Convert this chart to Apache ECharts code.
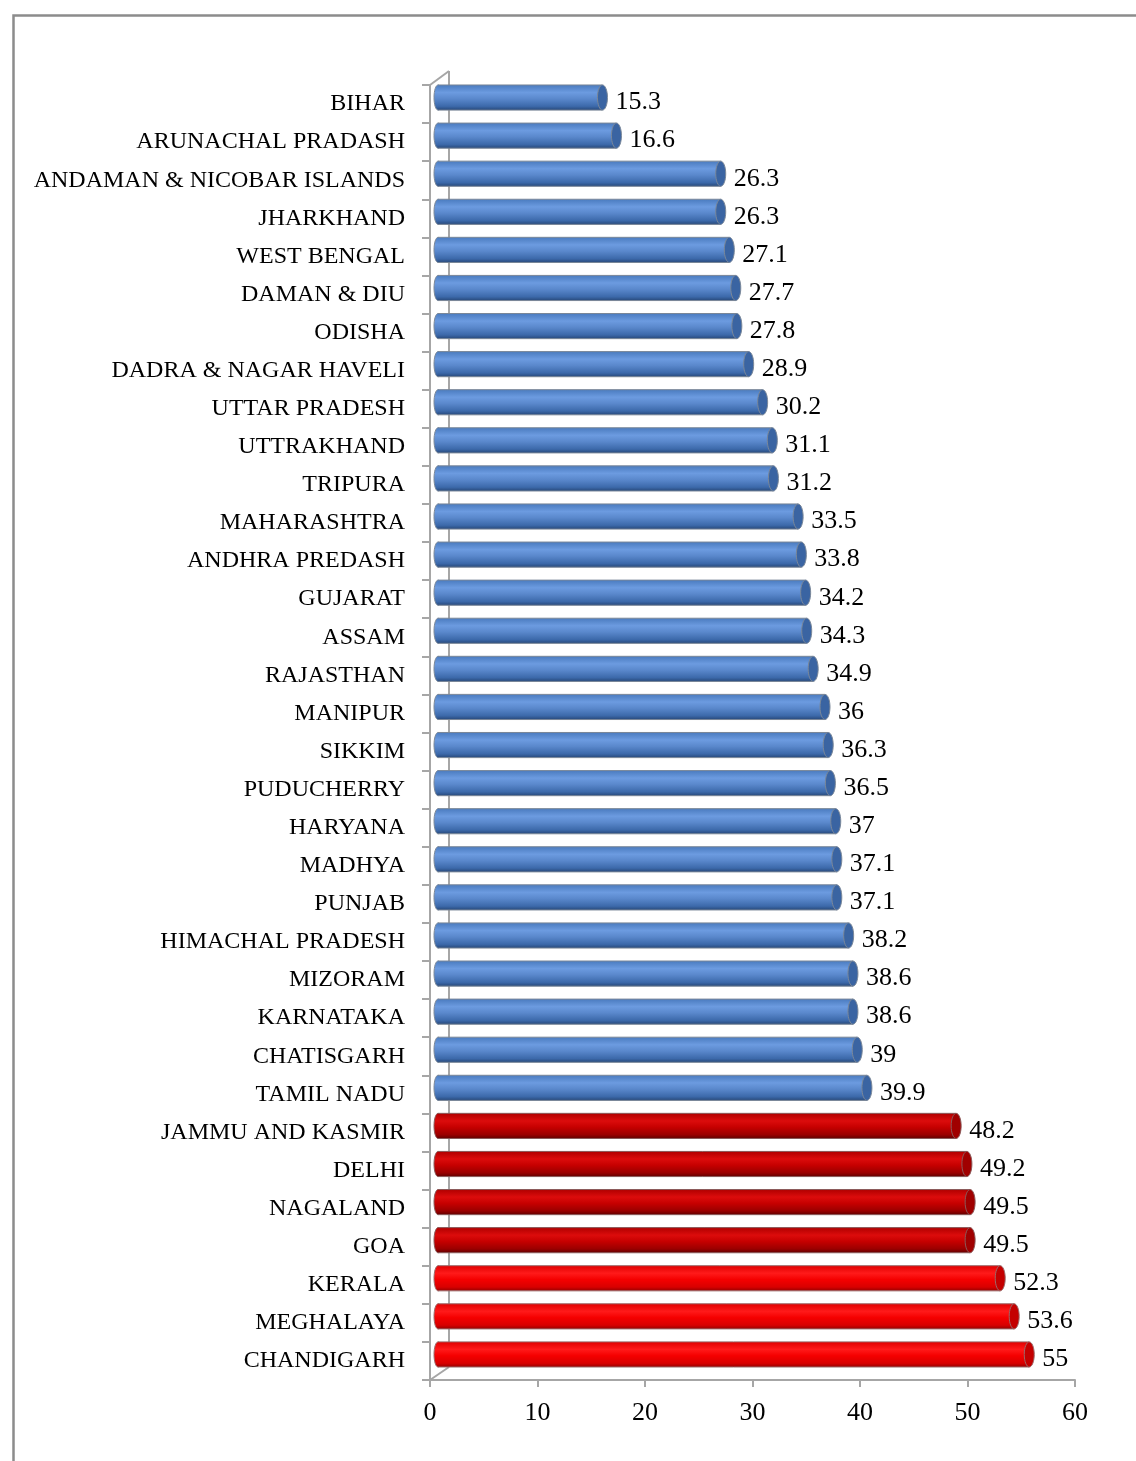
<!DOCTYPE html>
<html>
<head>
<meta charset="utf-8">
<script src="https://cdn.jsdelivr.net/npm/echarts@6/dist/echarts.min.js"></script>
<style>
  html, body { margin: 0; padding: 0; background: #fff; }
  #chart { width: 1136px; height: 1461px; }
</style>
</head>
<body>
<div id="chart"></div>
<script>
const states = [
  'BIHAR', 'ARUNACHAL PRADASH', 'ANDAMAN & NICOBAR ISLANDS', 'JHARKHAND',
  'WEST BENGAL', 'DAMAN & DIU', 'ODISHA', 'DADRA & NAGAR HAVELI',
  'UTTAR PRADESH', 'UTTRAKHAND', 'TRIPURA', 'MAHARASHTRA', 'ANDHRA PREDASH',
  'GUJARAT', 'ASSAM', 'RAJASTHAN', 'MANIPUR', 'SIKKIM', 'PUDUCHERRY',
  'HARYANA', 'MADHYA', 'PUNJAB', 'HIMACHAL PRADESH', 'MIZORAM', 'KARNATAKA',
  'CHATISGARH', 'TAMIL NADU', 'JAMMU AND KASMIR', 'DELHI', 'NAGALAND', 'GOA',
  'KERALA', 'MEGHALAYA', 'CHANDIGARH'
]
const values = [
  15.3, 16.6, 26.3, 26.3, 27.1, 27.7, 27.8, 28.9, 30.2, 31.1, 31.2, 33.5,
  33.8, 34.2, 34.3, 34.9, 36, 36.3, 36.5, 37, 37.1, 37.1, 38.2, 38.6, 38.6,
  39, 39.9, 48.2, 49.2, 49.5, 49.5, 52.3, 53.6, 55
]
const xTicks = [0, 10, 20, 30, 40, 50, 60]

const FONT = 'Liberation Serif'
const AXIS_GREY = '#a6a6a6'

// cylinder shading, picked by value band
function barPalette(v) {
  if (v < 45) {
    return { body: ['#4a7bbf', '#6c9be0', '#5a88cc', '#3c69aa', '#28497a'], cap: '#3a64a2', edge: '#7a8798' }
  }
  if (v < 51) {
    return { body: ['#b00000', '#dc0c0c', '#c60000', '#9a0000', '#620000'], cap: '#a00000', edge: '#8a5a5a' }
  }
  return { body: ['#e00000', '#ff1a1a', '#f50000', '#d80000', '#980000'], cap: '#c40000', edge: '#9a6a6a' }
}

function gradient(stops) {
  return new echarts.graphic.LinearGradient(0, 0, 0, 1, [
    { offset: 0, color: stops[0] },
    { offset: 0.3, color: stops[1] },
    { offset: 0.55, color: stops[2] },
    { offset: 0.85, color: stops[3] },
    { offset: 1, color: stops[4] }
  ])
}

function renderBar(params, api) {
  const v = api.value(0)
  const c = api.value(1)
  const start = api.coord([0, c])
  const end = api.coord([v, c])
  const band = api.size([0, 1])[1]
  const h = band * 0.66
  const dx = 8
  const dy = -6.5
  const cy = start[1] + dy
  const x0 = start[0] + dx
  const x1 = end[0] + dx
  const pal = barPalette(v)
  const fill = gradient(pal.body)
  const top = cy - h / 2
  const bot = cy + h / 2
  return {
    type: 'group',
    children: [
      {
        type: 'ellipse',
        shape: { cx: x0, cy: cy, rx: 4, ry: h / 2 },
        style: { fill: fill, stroke: pal.edge, lineWidth: 1 }
      },
      {
        type: 'rect',
        shape: { x: x0, y: top, width: x1 - x0, height: h },
        style: { fill: fill }
      },
      {
        type: 'line',
        shape: { x1: x0, y1: top, x2: x1, y2: top },
        style: { stroke: pal.edge, lineWidth: 1 }
      },
      {
        type: 'line',
        shape: { x1: x0, y1: bot, x2: x1, y2: bot },
        style: { stroke: pal.edge, lineWidth: 1 }
      },
      {
        type: 'ellipse',
        shape: { cx: x1, cy: cy, rx: 5, ry: h / 2 },
        style: { fill: pal.cap, stroke: pal.edge, lineWidth: 1 }
      },
      {
        type: 'text',
        style: {
          text: String(v),
          x: x1 + 13,
          y: cy + 5,
          verticalAlign: 'middle',
          align: 'left',
          font: '26px "' + FONT + '"',
          fill: '#000'
        }
      }
    ]
  }
}

// back wall and floor edges of the 3D frame
function renderWall(params, api) {
  const cs = params.coordSys
  const ox = 19
  const lines = [
    [cs.x + ox, cs.y - 14, cs.x + ox, cs.y + cs.height - 13],
    [cs.x, cs.y, cs.x + ox, cs.y - 14],
    [cs.x, cs.y + cs.height, cs.x + ox, cs.y + cs.height - 13]
  ]
  return {
    type: 'group',
    children: lines.map(l => ({
      type: 'line',
      shape: { x1: l[0], y1: l[1], x2: l[2], y2: l[3] },
      style: { stroke: AXIS_GREY, lineWidth: 2 }
    }))
  }
}

const chart = echarts.init(document.getElementById('chart'), null, { renderer: 'canvas' })

chart.setOption({
  animation: false,
  graphic: [{
    type: 'rect',
    left: 11,
    top: 13,
    shape: { width: 1300, height: 1600 },
    style: { fill: 'none', stroke: '#8c8c8c', lineWidth: 2.5 },
    z: -10
  }],
  grid: {
    left: 430,
    right: 61,
    top: 85,
    bottom: 81
  },
  xAxis: {
    type: 'value',
    min: xTicks[0],
    max: xTicks[xTicks.length - 1],
    interval: xTicks[1] - xTicks[0],
    splitLine: { show: false },
    axisLine: { show: true, lineStyle: { color: AXIS_GREY, width: 2 } },
    axisTick: { show: true, length: 7, lineStyle: { color: AXIS_GREY, width: 2 } },
    axisLabel: { fontFamily: FONT, fontSize: 26, color: '#000', margin: 20 }
  },
  yAxis: {
    type: 'category',
    data: states,
    inverse: true,
    axisLine: { show: true, lineStyle: { color: AXIS_GREY, width: 2 } },
    axisTick: { show: true, length: 8, lineStyle: { color: AXIS_GREY, width: 2 } },
    axisLabel: { fontFamily: FONT, fontSize: 24, color: '#000', margin: 25, padding: [10, 0, 0, 0] }
  },
  series: [
    {
      type: 'custom',
      renderItem: renderWall,
      data: [[0, 0]],
      encode: { x: 0, y: 1 },
      z: 1,
      silent: true
    },
    {
      type: 'custom',
      renderItem: renderBar,
      data: values.map((v, i) => [v, i]),
      encode: { x: 0, y: 1 },
      z: 2
    }
  ]
})
</script>
</body>
</html>
